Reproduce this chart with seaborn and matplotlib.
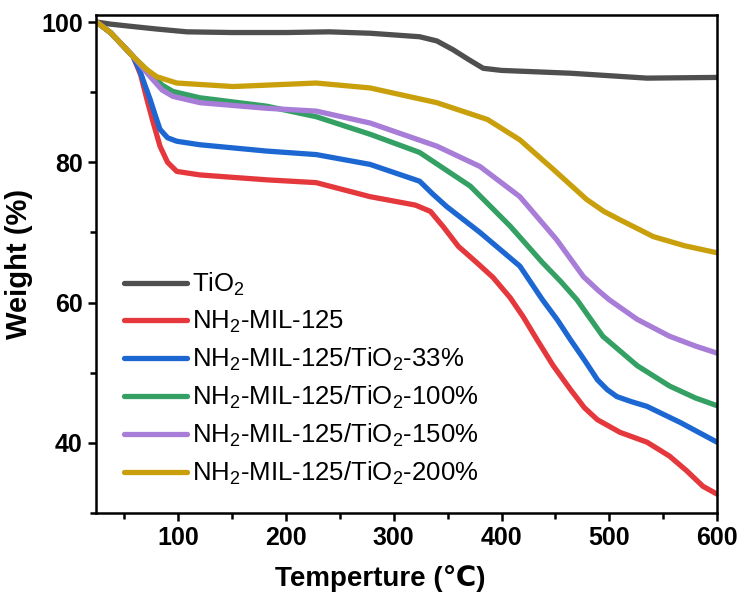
import matplotlib
matplotlib.use("Agg")
import matplotlib.pyplot as plt
import seaborn as sns
import pandas as pd
from matplotlib.ticker import MultipleLocator

sns.set_style("ticks")
plt.rcParams['font.family'] = ['Liberation Sans', 'DejaVu Sans']
plt.rcParams['mathtext.fontset'] = 'custom'
plt.rcParams['mathtext.rm'] = 'Liberation Sans'
plt.rcParams['mathtext.it'] = 'Liberation Sans'
plt.rcParams['mathtext.default'] = 'rm'
for k in ['text.color', 'axes.labelcolor', 'xtick.color', 'ytick.color', 'axes.edgecolor']:
    plt.rcParams[k] = 'black'

# ---- data ----
temp_tio2 = [24, 37, 55, 80, 108, 150, 200, 240, 278, 324, 340, 355, 370, 383, 400, 464, 535, 600]
w_tio2 = [100, 99.7, 99.4, 99.0, 98.6, 98.5, 98.5, 98.6, 98.4, 97.9, 97.3, 96.05, 94.6, 93.4, 93.1, 92.7, 92.0, 92.1]

temp_mil = [24, 37, 58, 65, 71, 77, 83, 90, 98.6, 120, 182, 228, 278, 320, 334, 346, 360, 377, 392, 408, 420, 433, 448, 464, 477, 489, 510, 535, 556, 572, 587, 600]
w_mil = [100, 98.5, 95.1, 92.5, 88.9, 85.5, 82.3, 80.0, 78.7, 78.2, 77.5, 77.1, 75.1, 73.9, 73.0, 70.8, 68.0, 65.7, 63.6, 60.7, 58.0, 54.7, 51.0, 47.6, 45.0, 43.3, 41.5, 40.1, 38.1, 36.0, 33.8, 32.7]

temp_33 = [24, 37, 58, 64, 69, 74, 79, 83, 90, 98.6, 120, 182, 228, 278, 324, 336, 349, 380, 417, 438, 452, 464, 477, 489, 498, 507, 520, 535, 566, 600]
w_33 = [100, 98.5, 95.1, 93.2, 91.0, 88.9, 86.5, 84.7, 83.5, 83.0, 82.5, 81.6, 81.1, 79.7, 77.3, 75.5, 73.7, 70.0, 65.2, 60.4, 57.5, 54.7, 51.8, 49.0, 47.6, 46.6, 45.9, 45.2, 42.9, 40.1]

temp_100 = [24, 37, 58, 74, 85, 95, 120, 182, 228, 278, 324, 371, 408, 438, 455, 470, 494, 526, 556, 580, 600]
w_100 = [100, 98.5, 95.1, 92.7, 91.0, 90.1, 89.2, 88.0, 86.5, 84.0, 81.4, 76.6, 70.9, 65.7, 63.0, 60.4, 55.2, 51.0, 48.1, 46.4, 45.3]

temp_150 = [24, 37, 58, 74, 85, 95, 120, 182, 228, 278, 340, 380, 417, 451, 476, 490, 500, 526, 556, 580, 600]
w_150 = [100, 98.5, 95.1, 92.2, 90.3, 89.4, 88.5, 87.7, 87.3, 85.6, 82.3, 79.4, 75.1, 69.0, 63.7, 61.7, 60.4, 57.6, 55.2, 53.8, 52.8]

temp_200 = [24, 37, 58, 70, 80, 98.6, 151, 228, 278, 340, 387, 417, 448, 479, 495, 510, 541, 570, 600]
w_200 = [100, 98.5, 95.1, 93.3, 92.2, 91.3, 90.8, 91.3, 90.6, 88.5, 86.1, 83.2, 79.0, 74.7, 73.0, 71.8, 69.4, 68.1, 67.1]

labels = ["TiO$_2$", "NH$_2$-MIL-125", "NH$_2$-MIL-125/TiO$_2$-33%",
          "NH$_2$-MIL-125/TiO$_2$-100%", "NH$_2$-MIL-125/TiO$_2$-150%",
          "NH$_2$-MIL-125/TiO$_2$-200%"]
temps = [temp_tio2, temp_mil, temp_33, temp_100, temp_150, temp_200]
weights = [w_tio2, w_mil, w_33, w_100, w_150, w_200]
colors = ["#4f4f4f", "#e4383d", "#1c67d2", "#34a064", "#a87dd8", "#c9a00c"]

frames = []
for lab, t, w in zip(labels, temps, weights):
    frames.append(pd.DataFrame({"T": t, "W": w, "sample": lab}))
df = pd.concat(frames, ignore_index=True)

fig = plt.figure(figsize=(7.38, 5.96), dpi=100)
ax = fig.add_axes([96/738, 1-513/596, (717-96)/738, (513-15)/596])

sns.lineplot(data=df, x="T", y="W", hue="sample", hue_order=labels,
             palette=dict(zip(labels, colors)), linewidth=3.8, sort=False,
             estimator=None, ax=ax)

ax.set_xlim(23.6, 600)
ax.set_ylim(30, 101)
ax.xaxis.set_minor_locator(MultipleLocator(50))
ax.yaxis.set_minor_locator(MultipleLocator(10))
ax.set_xticks([100, 200, 300, 400, 500, 600])
ax.set_yticks([40, 60, 80, 100])

for s in ax.spines.values():
    s.set_linewidth(1.8)
    s.set_color("black")
ax.tick_params(which="major", direction="out", length=6, width=1.8, labelsize=18)
ax.tick_params(which="minor", direction="out", length=4, width=1.8)
for lab in ax.get_xticklabels() + ax.get_yticklabels():
    lab.set_fontweight("bold")

ax.set_xlabel("Temperture (℃)", fontsize=20, fontweight="bold", labelpad=5)
ax.xaxis.set_label_coords((380 - 96) / 621, -0.105)
ax.set_ylabel("Weight (%)", fontsize=21, fontweight="bold", labelpad=6)

leg = ax.legend(loc="upper left", bbox_to_anchor=(0.045, 0.486), frameon=False,
                fontsize=18.5, handlelength=2.45, handletextpad=0.2,
                labelspacing=0.42, borderaxespad=0, borderpad=0)
for h in leg.get_lines():
    h.set_linewidth(3.8)

fig.savefig("out.png", dpi=100)
